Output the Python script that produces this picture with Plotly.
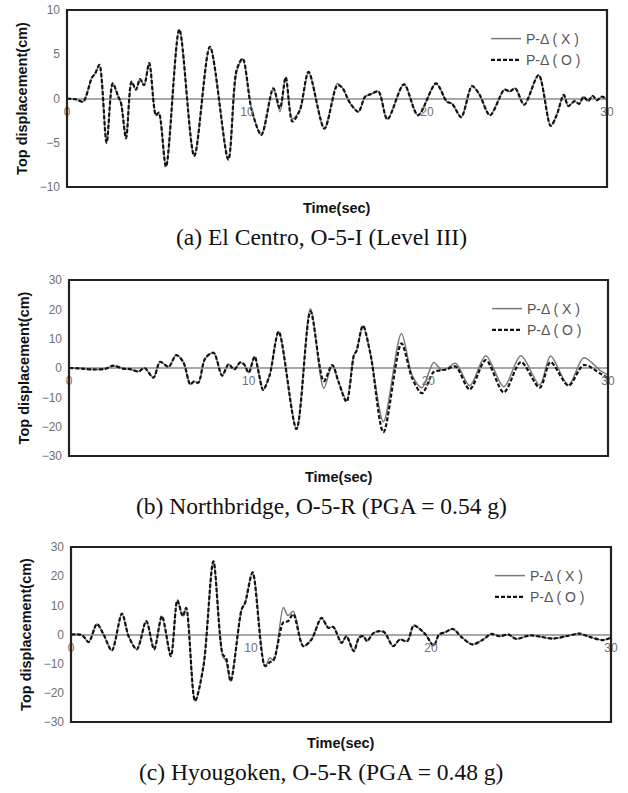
import plotly.graph_objects as go

# ---------------- data ----------------
series_names = ["P-Δ ( X )", "P-Δ ( O )"]
captions = ["(a) El Centro, O-5-I (Level III)",
            "(b) Northbridge, O-5-R (PGA = 0.54 g)",
            "(c) Hyougoken, O-5-R (PGA = 0.48 g)"]
x_ticks = [0, 10, 20, 30]
x_tick_labels = ["0", "10", "20", "30"]
y_ticks_a = [-10, -5, 0, 5, 10]
y_ticks_bc = [-30, -20, -10, 0, 10, 20, 30]

# (a) El Centro
t_a = [0, 0.5, 0.9, 1.37, 1.56, 1.8, 2.2, 2.54, 2.85, 3.0, 3.28, 3.59, 3.83, 4.06, 4.28,
       4.57, 4.94, 5.1, 5.5, 6.24, 7.07, 7.94, 8.96, 9.42, 9.76, 10.26, 10.8, 11.46, 11.83,
       12.15, 12.52, 12.94, 13.42, 14.3, 15.02, 15.3, 15.72, 16.19, 16.56, 16.9, 17.3, 17.8,
       18.72, 19.5, 20.5, 21.1, 21.4, 21.9, 22.5, 22.9, 23.5, 24.3, 24.6, 24.9, 25.4, 26.2,
       26.87, 27.2, 27.6, 27.85, 28.2, 28.45, 28.7, 28.95, 29.2, 29.45, 29.7, 30]
o_a = [0, -0.1, -0.35, 2.3, 2.8, 3.8, -5.0, 1.7, 0.2, -0.5, -4.5, 1.9, 1.0, 2.2, 1.5,
       4.0, -1.9, -1.6, -7.7, 7.8, -6.5, 5.85, -6.9, 3.2, 4.5, -1.3, -4.1, 1.15, -1.1,
       2.4, -2.6, -1.3, 3.0, -3.4, 1.5, 1.2, -0.5, -1.5, 0.2, 0.5, 0.8, -2.35,
       1.6, -1.9, 1.7, -0.35, -0.6, -2.1, 1.4, 0.5, -1.9, 1.0, 0.8, 1.15, -0.7, 2.65,
       -3.1, -1.9, 0.4, -0.85, -0.3, -0.6, 0.2, -0.3, 0.3, -0.2, 0.2, -0.1]
x_a = [0, -0.1, -0.35, 2.3, 2.8, 3.8, -5.0, 1.7, 0.2, -0.5, -4.5, 1.9, 1.0, 2.2, 1.5,
       4.0, -1.9, -1.6, -7.7, 7.8, -6.5, 5.85, -6.9, 3.0, 4.5, -1.3, -4.1, 1.15, -1.5,
       2.4, -2.3, -1.3, 3.0, -3.4, 1.7, 1.2, -0.5, -1.5, 0.2, 0.5, 0.8, -2.35,
       1.6, -1.9, 1.7, -0.35, -0.6, -2.1, 1.4, 0.5, -1.9, 1.0, 0.8, 1.15, -0.7, 2.65,
       -3.1, -1.9, 0.4, -0.85, -0.3, -0.6, 0.2, -0.3, 0.3, -0.2, 0.2, -0.1]

# (b) Northbridge
t_b = [0, 0.7, 1.35, 2.0, 2.47, 3.0, 3.4, 3.87, 4.2, 4.7, 5.07, 5.54, 5.97, 6.37, 6.75,
       6.95, 7.2, 7.58, 8.05, 8.52, 8.88, 9.2, 9.53, 9.75, 10.0, 10.33, 10.57, 10.8, 11.17,
       11.67, 12.66, 13.44, 14.18, 14.65, 15.0, 15.45, 15.86, 16.0, 16.36, 16.79, 17.5,
       18.5, 19.1, 19.65, 20.3, 20.7, 21.0, 21.52, 22.3, 23.2, 24.2, 25.15, 26.2, 26.8,
       27.8, 28.65, 29.6, 30]
o_b = [0, -0.2, -0.5, -0.3, 0.8, -0.2, -0.4, -1.2, 0, -3.3, 2.1, 0.4, 4.4, 1.9, -5.6,
       -4.6, -5.0, 3.3, 5.2, -2.6, 1.3, -0.5, 1.9, 1.2, -1.6, 3.9, -2.0, -7.5, -2.4,
       12.4, -20.8, 19.3, -4.5, 1.0, -4.7, -11.5, 4.4, 5.8, 14.4, 4.4, -21.9,
       8.4, -3.5, -8.6, -1.3, -0.8, -0.5, 0.5, -7.3, 2.7, -8.3, 2.0, -6.7, 2.0,
       -6.0, 1.0, -2.0, -3.5]
x_b = [0, -0.2, -0.5, -0.3, 0.8, -0.2, -0.4, -1.2, 0, -3.3, 2.1, 0.4, 4.4, 1.9, -5.6,
       -4.6, -5.0, 3.3, 5.2, -2.6, 1.3, -0.5, 1.9, 1.2, -1.6, 3.9, -2.0, -7.5, -2.4,
       12.4, -20.8, 20.2, -6.9, 1.0, -4.7, -11.0, 4.4, 5.8, 14.4, 4.4, -18.3,
       11.8, -2.5, -6.7, 1.9, -0.5, -0.3, 1.6, -6.0, 4.2, -6.4, 4.2, -5.8, 4.1,
       -5.8, 3.5, -1.0, -2.4]

# (c) Hyougoken
t_c = [0, 0.61, 0.98, 1.44, 1.81, 2.27, 2.83, 3.2, 3.66, 4.18, 4.62, 5.05, 5.55, 5.91,
       6.21, 6.4, 6.89, 7.36, 7.91, 8.43, 8.61, 8.87, 9.48, 9.67, 10.09, 10.78, 11.05,
       11.27, 11.8, 12.05, 12.35, 12.9, 13.36, 13.92, 14.29, 14.57, 15.03, 15.3, 15.71,
       16.0, 16.25, 16.44, 16.77, 17.06, 17.4, 17.9, 18.27, 18.68, 19.04, 19.37, 19.7,
       20.15, 20.45, 20.8, 21.22, 21.68, 22.3, 22.9, 23.35, 23.81, 24.3, 24.74, 25.48,
       26.1, 26.77, 27.5, 28.25, 28.8, 29.54, 30]
o_c = [0, -0.2, -2.6, 3.6, 0, -5.5, 7.2, -0.6, -5.1, 4.6, -5.1, 6.3, -7.4, 11.7,
       6.3, 9.1, -22.8, -10.8, 25.1, -6.8, -8.0, -16.0, 8.6, 10.8, 21.3, -10.8, -9.5,
       -8.5, 4.2, 4.5, 7.0, -4.0, -1.7, 5.7, 2.3, 2.6, -2.9, -0.6, -5.7,
       -1.1, -0.6, -2.3, 0.3, 1.1, 0.8, -4.0, -1.7, -2.3, 3.1, 1.9, 0,
       -3.8, 0, 0.8, 1.9, -0.8, -3.4, -1.7, 0.2, -0.6, 0, -1.5, -0.3,
       -0.8, -1.4, -0.6, 0.3, -0.8, -1.9, -1.1]
x_c = [0, -0.2, -2.6, 3.6, 0, -5.5, 7.2, -0.6, -5.1, 4.6, -5.1, 6.3, -7.4, 11.7,
       6.3, 9.1, -22.8, -10.8, 25.1, -7.5, -9.0, -16.0, 8.6, 10.8, 21.3, -11.0, -8.0,
       -9.0, 9.3, 6.5, 8.0, -4.0, -1.7, 5.7, 2.3, 2.6, -2.9, -0.6, -5.7,
       -1.1, -0.6, -2.3, 0.3, 1.1, 0.8, -4.0, -1.7, -2.3, 3.1, 1.9, 0,
       -3.8, 0, 0.8, 1.9, -0.8, -3.4, -1.7, 0.2, -0.6, 0, -1.5, -0.3,
       -0.8, -1.4, -0.6, 0.3, -0.8, -1.9, -1.1]

# ---------------- layout (pixel geometry of the 628x793 page) ----------------
W, H = 628, 793
frames_px = [(67, 607, 10, 187), (69, 608, 280, 456), (71, 611, 547, 722)]  # x0,x1,ytop,ybottom
legend_px = [(486, 23), (487, 293), (490, 560)]
caption_x_px = 321

panels = [
    (t_a, x_a, o_a, 10, y_ticks_a),
    (t_b, x_b, o_b, 30, y_ticks_bc),
    (t_c, x_c, o_c, 30, y_ticks_bc),
]

tick_font = dict(family="Liberation Sans, Arial", size=12, color="#707070")
bold_font = dict(family="Liberation Sans, Arial", size=14.5, color="#111111", weight="bold")

fig = go.Figure()
layout = dict(width=W, height=H, margin=dict(l=0, r=0, t=0, b=0),
              paper_bgcolor="white", plot_bgcolor="white", showlegend=True)
shapes, annotations = [], []

for i, (t, xs, os_, ymax, yt) in enumerate(panels):
    n = "" if i == 0 else str(i + 1)
    x0, x1, yt_px, yb_px = frames_px[i]
    xd = [x0 / W, x1 / W]
    yd = [1 - yb_px / H, 1 - yt_px / H]
    leg = "legend" if i == 0 else f"legend{i + 1}"

    fig.add_trace(go.Scatter(x=t, y=xs, name=series_names[0], mode="lines",
                             line=dict(color="#7a7a7a", width=1.5, shape="spline", smoothing=0.85),
                             xaxis="x" + n, yaxis="y" + n, legend=leg))
    fig.add_trace(go.Scatter(x=t, y=os_, name=series_names[1], mode="lines",
                             line=dict(color="#111111", width=2.2, dash="4px,2px",
                                       shape="spline", smoothing=0.85),
                             xaxis="x" + n, yaxis="y" + n, legend=leg))

    layout["xaxis" + n] = dict(domain=xd, range=[0, 30], anchor="free",
                               position=(yd[0] + yd[1]) / 2,
                               tickvals=x_ticks, ticktext=x_tick_labels, ticks="",
                               ticklabelstandoff=4,
                               showline=False, showgrid=False, zeroline=False,
                               tickfont=tick_font, automargin=False, fixedrange=True)
    layout["yaxis" + n] = dict(domain=yd, range=[-ymax, ymax], anchor="x" + n,
                               tickvals=yt, ticks="", ticklabelstandoff=6,
                               showline=False, showgrid=False,
                               zeroline=True, zerolinecolor="#a8a8a8", zerolinewidth=1.5,
                               tickfont=tick_font, automargin=False,
                               title=dict(text="Top displacement(cm)", font=bold_font, standoff=8))
    lx, ly = legend_px[i]
    layout[leg] = dict(x=lx / W, y=1 - ly / H, xanchor="left", yanchor="top",
                       bgcolor="rgba(0,0,0,0)", borderwidth=0,
                       font=dict(family="Liberation Sans, Arial", size=14, color="#555555"),
                       tracegroupgap=0)

    shapes.append(dict(type="rect", xref="x" + n + " domain", yref="y" + n + " domain",
                       x0=0, x1=1, y0=0, y1=1, line=dict(color="#222222", width=2.2),
                       layer="above"))
    annotations.append(dict(text="Time(sec)", xref="x" + n + " domain", yref="y" + n + " domain",
                            x=0.5, y=0, xanchor="center", yanchor="top", yshift=-11,
                            showarrow=False, font=bold_font))
    annotations.append(dict(text=captions[i], xref="paper", yref="y" + n + " domain",
                            x=caption_x_px / W, y=0, xanchor="center", yanchor="middle",
                            yshift=-50, showarrow=False,
                            font=dict(family="Liberation Serif, Times New Roman", size=23.5,
                                      color="#111111")))

layout["shapes"] = shapes
layout["annotations"] = annotations
fig.update_layout(**layout)
fig.write_html("out.html")
